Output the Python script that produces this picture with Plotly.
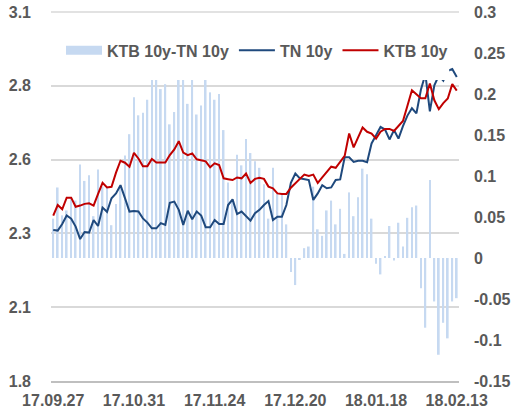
import plotly.graph_objects as go

# trading days, 17.09.27 .. 18.02.13
dates = [
    "17.09.27", "17.09.28", "17.09.29", "17.10.10", "17.10.11", "17.10.12", "17.10.13",
    "17.10.16", "17.10.17", "17.10.18", "17.10.19", "17.10.20", "17.10.23", "17.10.24",
    "17.10.25", "17.10.26", "17.10.27", "17.10.30", "17.10.31", "17.11.01", "17.11.02",
    "17.11.03", "17.11.06", "17.11.07", "17.11.08", "17.11.09", "17.11.10", "17.11.13",
    "17.11.14", "17.11.15", "17.11.16", "17.11.17", "17.11.20", "17.11.21", "17.11.22",
    "17.11.23", "17.11.24", "17.11.27", "17.11.28", "17.11.29", "17.11.30", "17.12.01",
    "17.12.04", "17.12.05", "17.12.06", "17.12.07", "17.12.08", "17.12.11", "17.12.12",
    "17.12.13", "17.12.14", "17.12.15", "17.12.18", "17.12.19", "17.12.20", "17.12.21",
    "17.12.22", "17.12.26", "17.12.27", "17.12.28", "18.01.02", "18.01.03", "18.01.04",
    "18.01.05", "18.01.08", "18.01.09", "18.01.10", "18.01.11", "18.01.12", "18.01.15",
    "18.01.16", "18.01.17", "18.01.18", "18.01.19", "18.01.22", "18.01.23", "18.01.24",
    "18.01.25", "18.01.26", "18.01.29", "18.01.30", "18.01.31", "18.02.01", "18.02.02",
    "18.02.05", "18.02.06", "18.02.07", "18.02.08", "18.02.09", "18.02.12", "18.02.13",
]

tick_dates = ["17.09.27", "17.10.31", "17.11.24", "17.12.20", "18.01.18", "18.02.13"]

ktb_10y = [
    2.383, 2.420, 2.405, 2.446, 2.446, 2.414, 2.418, 2.424, 2.426, 2.418,
    2.459, 2.498, 2.482, 2.484, 2.534, 2.576, 2.569, 2.555, 2.604, 2.584,
    2.557, 2.557, 2.582, 2.570, 2.570, 2.570, 2.596, 2.616, 2.645, 2.605,
    2.596, 2.602, 2.581, 2.577, 2.574, 2.553, 2.567, 2.561, 2.514, 2.511,
    2.508, 2.517, 2.514, 2.531, 2.498, 2.512, 2.516, 2.512, 2.485, 2.479,
    2.461, 2.459, 2.459, 2.481, 2.498, 2.512, 2.527, 2.522, 2.527, 2.498,
    2.517, 2.537, 2.555, 2.551, 2.571, 2.593, 2.672, 2.623, 2.658, 2.693,
    2.678, 2.672, 2.654, 2.678, 2.688, 2.688, 2.681, 2.698, 2.716, 2.770,
    2.824, 2.810, 2.796, 2.796, 2.848, 2.789, 2.758, 2.779, 2.795, 2.846,
    2.823,
]

tn_10y = [
    2.332, 2.330, 2.353, 2.383, 2.372, 2.344, 2.300, 2.325, 2.323, 2.367,
    2.346, 2.411, 2.396, 2.444, 2.461, 2.490, 2.444, 2.397, 2.399, 2.397,
    2.373, 2.358, 2.338, 2.338, 2.356, 2.350, 2.428, 2.432, 2.403, 2.350,
    2.400, 2.370, 2.397, 2.383, 2.342, 2.342, 2.367, 2.353, 2.353, 2.420,
    2.440, 2.388, 2.397, 2.381, 2.365, 2.391, 2.403, 2.420, 2.434, 2.367,
    2.379, 2.379, 2.420, 2.498, 2.531, 2.514, 2.510, 2.508, 2.438, 2.461,
    2.490, 2.479, 2.482, 2.508, 2.510, 2.588, 2.588, 2.572, 2.576, 2.576,
    2.571, 2.637, 2.666, 2.695, 2.686, 2.651, 2.684, 2.654, 2.698, 2.735,
    2.761, 2.743, 2.826, 2.881, 2.750, 2.842, 2.876, 2.858, 2.893, 2.899,
    2.871,
]

spread = [
    0.048, 0.086, 0.052, 0.058, 0.074, 0.070, 0.114, 0.094, 0.101, 0.051,
    0.108, 0.087, 0.086, 0.040, 0.066, 0.086, 0.125, 0.151, 0.196, 0.174,
    0.177, 0.193, 0.244, 0.232, 0.206, 0.212, 0.163, 0.178, 0.242, 0.255,
    0.188, 0.232, 0.175, 0.186, 0.232, 0.202, 0.193, 0.200, 0.156, 0.092,
    0.070, 0.126, 0.113, 0.145, 0.128, 0.118, 0.110, 0.090, 0.048, 0.110,
    0.078, 0.078, 0.041, -0.017, -0.033, -0.002, 0.012, 0.014, 0.087, 0.035,
    0.027, 0.058, 0.070, 0.041, 0.060, 0.005, 0.080, 0.051, 0.074, 0.109,
    0.102, 0.048, -0.007, -0.020, 0.002, 0.039, -0.003, 0.043, 0.014, 0.049,
    0.062, 0.064, -0.037, -0.085, 0.095, -0.053, -0.118, -0.079, -0.098, -0.053,
    -0.049,
]

left_ticks = [1.8, 2.06, 2.32, 2.58, 2.84, 3.1]
left_labels = ["1.8", "2.1", "2.3", "2.6", "2.8", "3.1"]
right_ticks = [-0.15, -0.1, -0.05, 0, 0.05, 0.1, 0.15, 0.2, 0.25, 0.3]
right_labels = ["-0.15", "-0.1", "-0.05", "0", "0.05", "0.1", "0.15", "0.2", "0.25", "0.3"]

BAR_COLOR = "#c6d9f1"
TN_COLOR = "#1f497d"
KTB_COLOR = "#c00000"
GRID_COLOR = "#d9d9d9"
TEXT_COLOR = "#595959"
FONT = dict(family="Liberation Sans, Arial, sans-serif", size=16, color=TEXT_COLOR, weight="bold")

fig = go.Figure()

# legend-only entry so the bar key is a wide flat block like the original
fig.add_trace(go.Scatter(
    x=[None], y=[None], mode="lines", name="KTB 10y-TN 10y",
    line=dict(color=BAR_COLOR, width=9), yaxis="y2",
))
fig.add_trace(go.Bar(
    x=dates, y=spread, name="KTB 10y-TN 10y", marker_color=BAR_COLOR,
    marker_line_width=0, showlegend=False, yaxis="y",
))
fig.add_trace(go.Scatter(
    x=dates, y=tn_10y, mode="lines", name="TN 10y",
    line=dict(color=TN_COLOR, width=2), yaxis="y2",
))
fig.add_trace(go.Scatter(
    x=dates, y=ktb_10y, mode="lines", name="KTB 10y",
    line=dict(color=KTB_COLOR, width=2), yaxis="y2",
))

# top gridline sits on the range edge, plotly skips it there
fig.add_shape(
    type="line", xref="paper", yref="paper", x0=0, x1=1, y0=1, y1=1,
    line=dict(color=GRID_COLOR, width=1.5), layer="below",
)
# white legend block that hides the data behind it (as in the source chart)
fig.add_shape(
    type="rect", xref="paper", yref="y2", x0=0.02, x1=0.976, y0=2.86, y1=3.0,
    fillcolor="white", line_width=0, layer="above",
)

fig.update_layout(
    width=513, height=414,
    margin=dict(l=51, r=54, t=12, b=33, autoexpand=False),
    paper_bgcolor="white", plot_bgcolor="white",
    font=FONT,
    bargap=0.62,
    showlegend=True,
    hovermode=False,
    legend=dict(
        orientation="h", x=0.0245, xanchor="left", y=0.896, yanchor="middle",
        bgcolor="rgba(0,0,0,0)", font=FONT, itemwidth=36,
    ),
    xaxis=dict(
        type="category", range=[-0.5, len(dates) - 0.5],
        tickvals=tick_dates, ticktext=tick_dates, tickangle=0,
        showgrid=False, showline=True, linecolor="#bfbfbf", linewidth=1.5,
        ticks="", ticklabelstandoff=4, tickfont=FONT, automargin=False,
    ),
    yaxis=dict(
        side="right", range=[-0.15, 0.3],
        tickvals=right_ticks, ticktext=right_labels,
        showgrid=False, zeroline=False, showline=False, ticks="",
        ticklabelstandoff=14, tickfont=FONT, automargin=False,
        ticklabeloverflow="allow",
    ),
    yaxis2=dict(
        overlaying="y", side="left", range=[1.8, 3.1],
        tickvals=left_ticks, ticktext=left_labels,
        showgrid=True, gridcolor=GRID_COLOR, gridwidth=1.5,
        zeroline=False, showline=False, ticks="",
        ticklabelstandoff=19, tickfont=FONT, automargin=False,
        ticklabeloverflow="allow",
    ),
)

# drop the default 8px body margin so the figure sits flush in the window
fig.write_html(
    "out.html",
    config={"displayModeBar": False},
    post_script="document.body.style.margin = '0';",
)
